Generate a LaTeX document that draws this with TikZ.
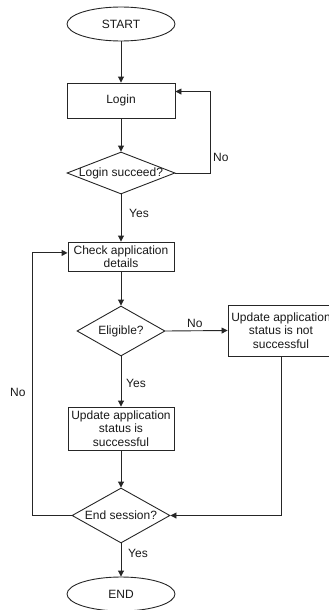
\documentclass[tikz,border=0pt]{standalone}
\usepackage{fontspec}
\setmainfont{Liberation Sans}
\usetikzlibrary{shapes.geometric,arrows.meta,calc}

\begin{document}
\begin{tikzpicture}[x=1pt,y=-1pt,
  every node/.style={font=\fontsize{12}{13.5}\selectfont, text=black!90},
  conn/.style={draw=black!85, line width=0.9pt},
  arr/.style={conn, -{Triangle[length=6pt,width=6pt]}},
  term/.style={ellipse, draw=black!85, line width=0.9pt, inner sep=0pt},
  proc/.style={rectangle, draw=black!85, line width=0.9pt, inner sep=0pt, align=center},
  dec/.style={diamond, draw=black!85, line width=0.9pt, inner sep=0pt},
  lbl/.style={inner sep=1pt, anchor=west}]

\useasboundingbox (0,0) rectangle (329,610);

% terminals
\node[term, minimum width=108pt, minimum height=34pt] (start) at (121,24) {START};
\node[term, minimum width=108pt, minimum height=34pt] (end) at (121,594) {END};

% process boxes
\node[proc, minimum width=108pt, minimum height=35pt] (login) at (121,100.5) {Login};
\node[proc, minimum width=106pt, minimum height=29pt] (check) at (121,256.5) {Check application\\details};
\node[proc, minimum width=106pt, minimum height=43pt] (updok) at (121,428.5) {Update application\\status is\\successful};
\node[proc, minimum width=106pt, minimum height=51pt] (updno) at (281,330.5) {Update application\\status is not\\successful};

% decisions (shape and caption drawn separately so the text may overhang)
\node[dec, minimum width=108pt, minimum height=42pt] (succ) at (121,173) {};
\node (succtxt) at (succ.center) {Login succeed?};
\node[dec, minimum width=88pt, minimum height=50pt] (elig) at (121,331) {};
\node (eligtxt) at (elig.center) {Eligible?};
\node[dec, minimum width=98pt, minimum height=55pt] (ends) at (121,515.5) {};
\node (endstxt) at (ends.center) {End session?};

% main flow
\draw[arr] (start) -- (login);
\draw[arr] (login) -- (succ);
\draw[arr] (succ) -- (check);
\draw[arr] (check) -- (elig);
\draw[arr] (elig) -- (updok);
\draw[arr] (updok) -- (ends);
\draw[arr] (ends) -- (end);

% branches
\draw[arr] (succ.east) -- ++(35,0) |- ($(login.north east)!0.25!(login.south east)$);
\draw[arr] (elig.east) -- (updno.west);
\draw[arr] (updno.south) |- (ends.east);
\draw[arr] (ends.west) -- (32,515.5) |- ($(check.north west)!0.38!(check.south west)$);

% branch labels
\node[lbl] (lno1) at (212,157) {No};
\node[lbl] (lyes1) at (128,213) {Yes};
\node[lbl] (lno2) at (186,323) {No};
\node[lbl] (lyes2) at (125,383) {Yes};
\node[lbl] (lno3) at (9,392) {No};
\node[lbl] (lyes3) at (127,553) {Yes};
\end{tikzpicture}
\end{document}
